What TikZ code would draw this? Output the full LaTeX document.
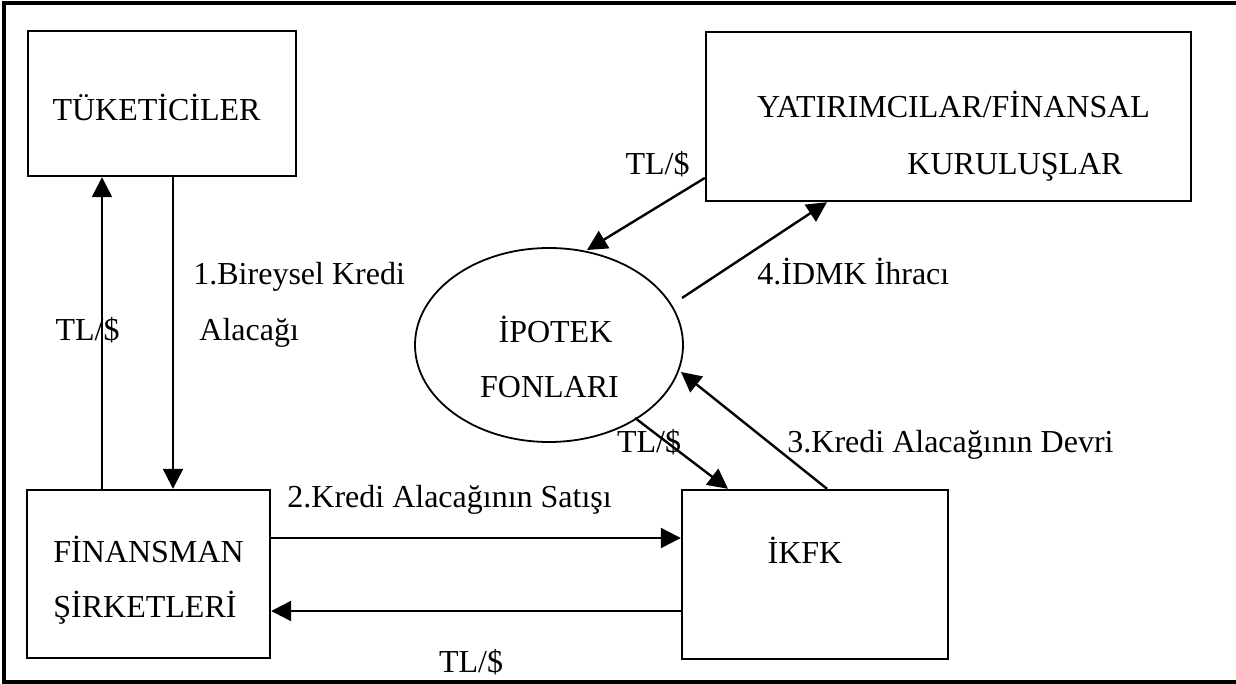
\documentclass[tikz,border=0pt]{standalone}
\usepackage{fontspec}
\setmainfont{Liberation Serif}
\usetikzlibrary{arrows.meta,shapes.geometric}
\begin{document}
\begin{tikzpicture}[x=0.5pt,y=-0.5pt,
  box/.style={draw,line width=1.2pt,inner sep=0pt},
  txt/.style={font=\fontsize{16}{19}\selectfont,inner sep=0pt,anchor=base},
  arr/.style={line width=1.2pt,-{Triangle[length=10pt,width=10pt]}}]
\useasboundingbox (0,0) rectangle (1236,684);
\draw[line width=1.6pt] (1245,3) -- (4,3) -- (4,682) -- (1245,682);
% boxes
\node[box,minimum width=134pt,minimum height=72.5pt] (tuk) at (162,103.5) {};
\node[box,minimum width=242.5pt,minimum height=84.5pt] (yat) at (948.5,116.5) {};
\node[box,minimum width=121.5pt,minimum height=84pt] (fin) at (148.5,574) {};
\node[box,minimum width=133pt,minimum height=84.5pt] (ikfk) at (815,574.5) {};
\node[draw,ellipse,line width=0.9pt,inner sep=0pt,minimum width=134pt,minimum height=97pt] (ip) at (549,345) {};
% texts
\node[txt] (t1) at (156.5,121) {TÜKETİCİLER};
\node[txt] (t2) at (953.5,118) {YATIRIMCILAR/FİNANSAL};
\node[txt] (t3) at (1015,175) {KURULUŞLAR};
\node[txt] (l1) at (657.5,175) {TL/\$};
\node[txt,anchor=base west] (l2) at (193,285) {1.Bireysel Kredi};
\node[txt,anchor=base west] (l3) at (199,340) {Alacağı};
\node[txt] (l4) at (87.5,340) {TL/\$};
\node[txt] (t4) at (555.5,342) {İPOTEK};
\node[txt] (t5) at (549.5,397) {FONLARI};
\node[txt,anchor=base west] (l5) at (757,285) {4.İDMK İhracı};
\node[txt] (l6) at (649,452) {TL/\$};
\node[txt,anchor=base west] (l7) at (787,452) {3.Kredi Alacağının Devri};
\node[txt,anchor=base west] (l8) at (287,507) {2.Kredi Alacağının Satışı};
\node[txt,anchor=base west] (t6) at (53,562) {FİNANSMAN};
\node[txt,anchor=base west] (t7) at (53,617) {ŞİRKETLERİ};
\node[txt] (t8) at (805,563) {İKFK};
\node[txt] (l9) at (471,672) {TL/\$};
% free ends near the ellipse
\coordinate (c1) at (635,418);
\coordinate (c2) at (681,372);
\coordinate (c3) at (587,250);
\coordinate (c4) at (682,298);
% connectors
\draw[arr] (102,0 |- fin.north) -- (102,0 |- tuk.south);
\draw[arr] (173,0 |- tuk.south) -- (173,0 |- fin.north);
\draw[arr] (fin.east |- 0,538) -- (ikfk.west |- 0,538);
\draw[arr] (ikfk.west |- 0,611) -- (fin.east |- 0,611);
\draw[arr] (c1) -- (728,0 |- ikfk.north);
\draw[arr] (827,0 |- ikfk.north) -- (c2);
\draw[arr] (yat.west |- 0,178) -- (c3);
\draw[arr] (c4) -- (827,0 |- yat.south);
\end{tikzpicture}
\end{document}
